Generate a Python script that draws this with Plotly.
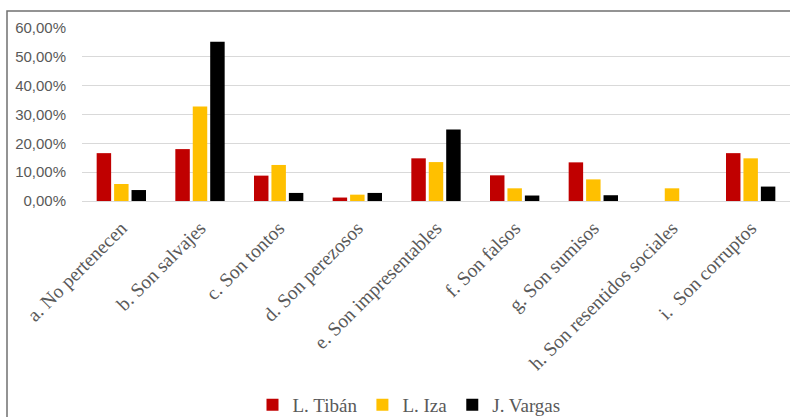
import plotly.graph_objects as go

categories = [
    "a. No pertenecen",
    "b. Son salvajes",
    "c. Son tontos",
    "d. Son perezosos",
    "e. Son impresentables",
    "f. Son falsos",
    "g. Son sumisos",
    "h. Son resentidos sociales",
    "i.  Son corruptos",
]
series_names = ["L. Tibán", "L. Iza", "J. Vargas"]
tiban = [0.166, 0.180, 0.088, 0.012, 0.148, 0.089, 0.134, 0.0, 0.166]
iza = [0.059, 0.328, 0.125, 0.022, 0.135, 0.044, 0.075, 0.044, 0.148]
vargas = [0.038, 0.552, 0.028, 0.028, 0.248, 0.019, 0.020, 0.0, 0.050]
colors = ["#C00000", "#FFC000", "#000000"]
y_ticks = [0, 0.1, 0.2, 0.3, 0.4, 0.5, 0.6]

W, H = 790, 417
L, R, T, B = 82, 0, 28, 216
pw = W - L - R
ph = H - T - B

fig = go.Figure()
for name, vals, col in zip(series_names, [tiban, iza, vargas], colors):
    fig.add_trace(go.Bar(x=categories, y=vals, name=name,
                         marker=dict(color=col, line=dict(width=0))))

def px_x(p):
    return (p - L) / pw

def px_y(p):
    return (H - B - p) / ph

fig.update_layout(
    width=W, height=H,
    margin=dict(l=L, r=R, t=T, b=B, pad=0, autoexpand=False),
    paper_bgcolor="white", plot_bgcolor="white",
    separators=",.",
    barmode="group", bargap=0.335, bargroupgap=0.17,
    showlegend=True,
    legend=dict(orientation="h", xref="paper", yref="paper",
                x=px_x(409), xanchor="center", y=px_y(405), yanchor="middle",
                font=dict(family="Liberation Serif", size=19, color="#595959"),
                itemwidth=30, traceorder="normal"),
    xaxis=dict(tickangle=-45, showgrid=False, showline=False, ticks="",
               tickfont=dict(family="Liberation Serif", size=19.5, color="#595959"),
               ticklabelstandoff=11),
    yaxis=dict(range=[0, 0.6], tickvals=y_ticks, tickformat=".2%",
               showgrid=True, gridcolor="#D9D9D9", gridwidth=1,
               zeroline=True, zerolinecolor="#D9D9D9", zerolinewidth=1,
               showline=False, ticks="",
               tickfont=dict(family="Liberation Sans", size=15, color="#595959"),
               ticklabelstandoff=15),
    shapes=[dict(type="rect", xref="paper", yref="paper",
                 x0=px_x(7), x1=px_x(805), y0=px_y(440), y1=px_y(11),
                 line=dict(color="#707070", width=1.5), fillcolor="rgba(0,0,0,0)",
                 layer="below")],
)

fig.write_html("out.html")
